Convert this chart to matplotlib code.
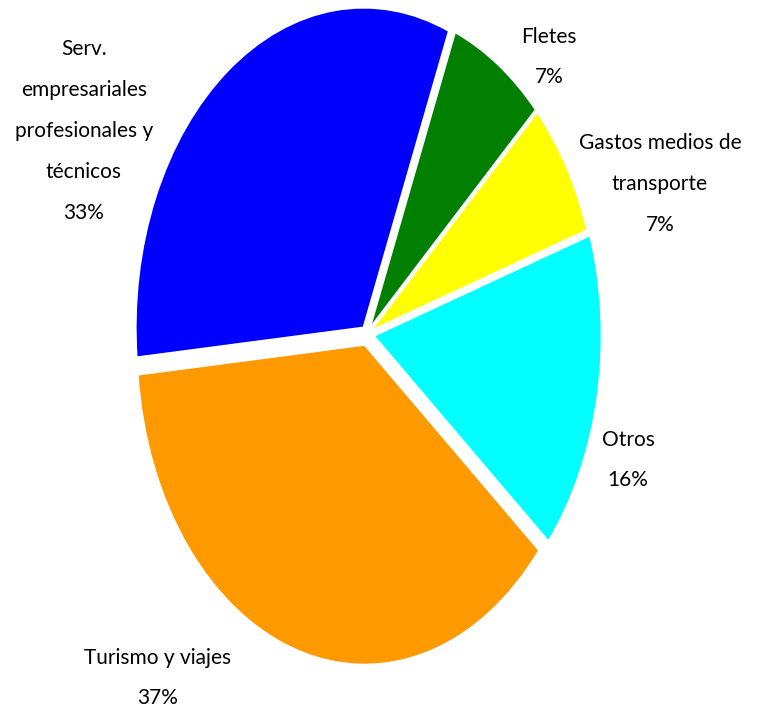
"""Pie chart: composición de importaciones de servicios."""

import matplotlib
matplotlib.use("Agg")
import matplotlib.pyplot as plt

# data (counterclockwise from the Otros/Turismo boundary)
categories = ["Otros", "Gastos medios de\ntransporte", "Fletes",
              "Serv.\nempresariales\nprofesionales y\ntécnicos", "Turismo y viajes"]
shares = [16.2, 6.9, 6.9, 32.6, 37.4]
colors = ["#00FFFF", "#FFFF00", "#007F00", "#0000FF", "#FF9900"]
explode = [0.03, 0.02, 0.02, 0.025, 0.035]

# label placement in figure pixels (x, y from top)
label_pos = [(628, 460), (660, 184), (549, 57), (84, 131), (158, 678)]

W, H = 763, 714
fig = plt.figure(figsize=(W / 100, H / 100), dpi=100)
ax = fig.add_axes([0, 0, 1, 1])

ax.pie(shares, colors=colors, explode=explode, startangle=-40,
       counterclock=True, radius=1.0,
       wedgeprops=dict(edgecolor="white", linewidth=1.5))

# stretch the pie vertically like the original
cx, cy, rx, ry = 367, 334, 228, 320
ax.set_aspect("auto")
ax.set_xlim(-cx / rx, (W - cx) / rx)
ax.set_ylim(-(H - cy) / ry, cy / ry)
ax.axis("off")

for name, share, (px, py) in zip(categories, shares, label_pos):
    fig.text(px / W, 1 - py / H, f"{name}\n{share:.0f}%", ha="center", va="center",
             multialignment="center", fontsize=15, family="Lato",
             linespacing=2.3, color="black")

fig.savefig("out.png", dpi=100, facecolor="white")
